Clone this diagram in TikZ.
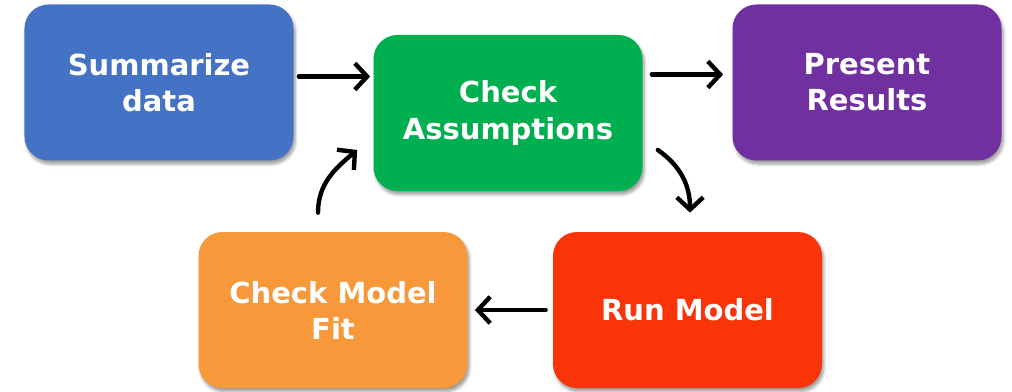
\documentclass[tikz,border=0pt]{standalone}
\usepackage{fontspec}
\setsansfont{DejaVu Sans}
\usepackage{tikz}
\usetikzlibrary{arrows,arrows.meta,shadows.blur}
\definecolor{azul}{RGB}{68,114,196}
\definecolor{verde}{RGB}{0,176,80}
\definecolor{morado}{RGB}{112,48,160}
\definecolor{naranja}{RGB}{247,152,58}
\definecolor{rojo}{RGB}{248,52,8}

\begin{document}
\begin{tikzpicture}[paso/.style={rectangle,rounded corners=0.48cm,minimum width=5.38cm,
        minimum height=3.12cm,text=white,align=center,
        font=\sffamily\bfseries\fontsize{16.5}{20.5}\selectfont,
        blur shadow={shadow xshift=1pt,shadow yshift=-2pt,shadow blur steps=6,shadow opacity=40}},
        flecha/.style={-{Straight Barb[length=7pt,width=15pt]},line width=2.5pt,line cap=round}]
      \useasboundingbox (0,0) rectangle (20.24,7.82);
      \node [paso,fill=azul]    (sum)  at (3.18,6.17)  {Summarize\\data};
      \node [paso,fill=verde]   (chk)  at (10.16,5.56) {Check\\Assumptions};
      \node [paso,fill=morado]  (pres) at (17.34,6.17) {Present\\Results};
      \node [paso,fill=naranja] (fit)  at (6.66,1.62)  {Check Model\\Fit};
      \node [paso,fill=rojo]    (run)  at (13.75,1.62) {Run Model};
      \path[flecha]
      ([shift={(0.1,0.12)}]sum.east) edge ([shift={(-0.06,0.12)}]sum.east -| chk.west)
      ([shift={(0.18,0.16)}]pres.west -| chk.east) edge ([shift={(-0.18,0.16)}]pres.west)
      ([shift={(0.3,-0.74)}]chk.east) edge [out=-35,in=90] ([shift={(0.05,0.38)}]run.north)
      ([xshift=-0.14cm]run.west) edge ([xshift=0.14cm]fit.east)
      ([shift={(-0.3,0.38)}]fit.north) edge [out=90,in=-140] ([shift={(-0.32,-0.74)}]chk.west);
    \end{tikzpicture}
\end{document}
